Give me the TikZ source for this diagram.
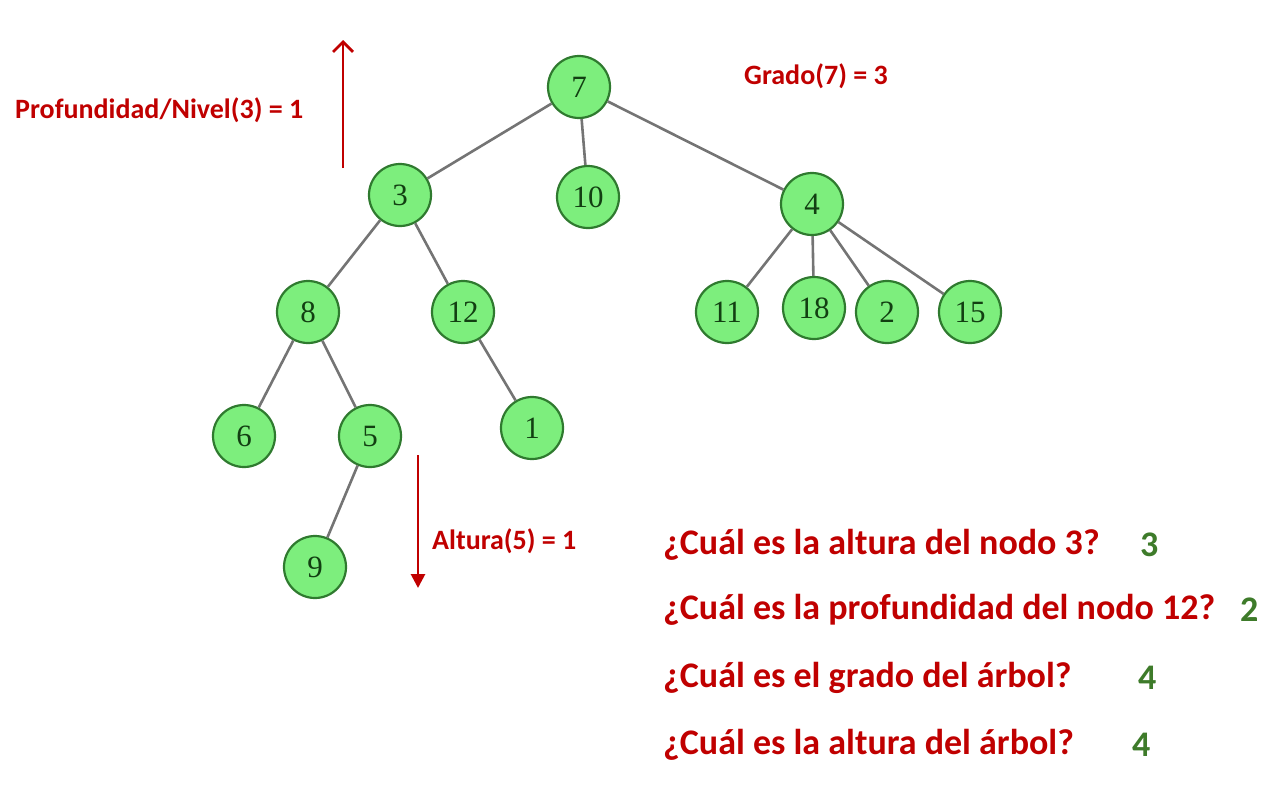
\documentclass[tikz,border=0pt]{standalone}
\usepackage{fontspec}
\setmainfont{Carlito}
\newfontfamily\numfont{Liberation Serif}
\usetikzlibrary{arrows.meta}
\definecolor{lblred}{HTML}{C00000}
\definecolor{ansgreen}{HTML}{3E7B2A}
\definecolor{nodefill}{HTML}{7DEE7D}
\definecolor{nodeline}{HTML}{2F7A2F}
\definecolor{numtext}{HTML}{123F12}
\definecolor{edgegray}{HTML}{747474}
\begin{document}
\begin{tikzpicture}[x=1pt,y=-1pt,
  tnode/.style={circle,draw=nodeline,fill=nodefill,line width=2.2pt,minimum size=62pt,inner sep=0pt,font=\numfont\fontsize{31}{31}\selectfont,text=numtext},
  edge/.style={draw=edgegray,line width=2.6pt},
  lbl/.style={text=lblred,font=\bfseries\fontsize{28}{28}\selectfont,inner sep=0pt,anchor=west},
  qst/.style={text=lblred,font=\bfseries\fontsize{36}{36}\selectfont,inner sep=0pt,anchor=west},
  ans/.style={text=ansgreen,font=\bfseries\fontsize{36}{36}\selectfont,inner sep=0pt,anchor=west},
  redarrow/.style={draw=lblred,line width=2.8pt}]
\useasboundingbox (0,0) rectangle (1278,787);
\node[tnode] (n7) at (579,87) {7};
\node[tnode] (n3) at (400,195) {3};
\node[tnode] (n10) at (588,197) {10};
\node[tnode] (n4) at (812,204) {4};
\node[tnode] (n8) at (308,312) {8};
\node[tnode] (n12) at (463,312) {12};
\node[tnode] (n11) at (727,312) {11};
\node[tnode] (n18) at (814,308) {18};
\node[tnode] (n2) at (887,312) {2};
\node[tnode] (n15) at (970,312) {15};
\node[tnode] (n6) at (244,436) {6};
\node[tnode] (n5) at (370,436) {5};
\node[tnode] (n1) at (532,428) {1};
\node[tnode] (n9) at (315,567) {9};
\path[edge] (n7) -- (n3);
\path[edge] (n7) -- (n10);
\path[edge] (n7) -- (n4);
\path[edge] (n3) -- (n8);
\path[edge] (n3) -- (n12);
\path[edge] (n4) -- (n11);
\path[edge] (n4) -- (n18);
\path[edge] (n4) -- (n2);
\path[edge] (n4) -- (n15);
\path[edge] (n8) -- (n6);
\path[edge] (n8) -- (n5);
\path[edge] (n12) -- (n1);
\path[edge] (n5) -- (n9);
\coordinate (ua) at (343,168);
\coordinate (ub) at (343,40);
\coordinate (da) at (418,455);
\coordinate (db) at (418,588);
\draw[redarrow,-{Straight Barb[length=10pt,width=20pt]}] (ua) -- (ub);
\draw[redarrow,-{Triangle[length=14pt,width=14pt]}] (da) -- (db);
\node[lbl] (lprof) at (15,110) {Profundidad/Nivel(3) = 1};
\node[lbl] (lgrado) at (744,76) {Grado(7) = 3};
\node[lbl] (lalt) at (432,541) {Altura(5) = 1};
\node[qst] (q1) at (663,545) {¿Cuál es la altura del nodo 3?};
\node[ans] (a1) at (1140,545) {3};
\node[qst] (q2) at (663,610) {¿Cuál es la profundidad del nodo 12?};
\node[ans] (a2) at (1240,610) {2};
\node[qst] (q3) at (663,678) {¿Cuál es el grado del árbol?};
\node[ans] (a3) at (1138,678) {4};
\node[qst] (q4) at (663,745) {¿Cuál es la altura del árbol?};
\node[ans] (a4) at (1132,745) {4};
\end{tikzpicture}
\end{document}
